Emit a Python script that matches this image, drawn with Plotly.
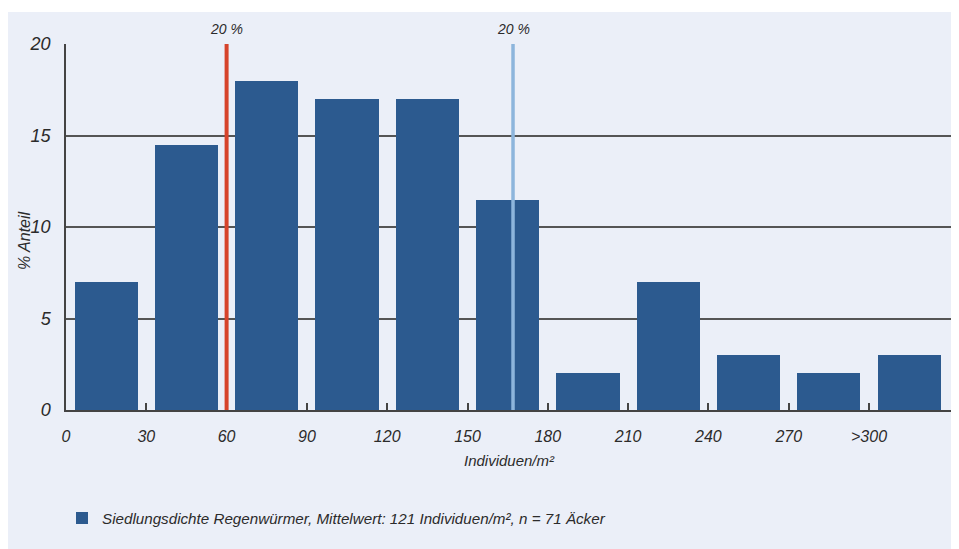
import plotly.graph_objects as go

bin_starts = [0, 30, 60, 90, 120, 150, 180, 210, 240, 270, 300]
shares = [7, 14.5, 18, 17, 17, 11.5, 2, 7, 3, 2, 3]
tick_vals = [0, 30, 60, 90, 120, 150, 180, 210, 240, 270, 300]
tick_text = ["0", "30", "60", "90", "120", "150", "180", "210", "240", "270", ">300"]
y_ticks = [0, 5, 10, 15, 20]
line_red_x = 60
line_blue_x = 167
line_labels = ["20 %", "20 %"]
series_name = "Siedlungsdichte Regenwürmer, Mittelwert: 121 Individuen/m², n = 71 Äcker"

BG = "#ebeff8"
BAR = "#2c5a8f"
TXT = "#2b2b2b"
FONT = "Liberation Sans, Arial, sans-serif"

W, H = 959, 549
L, R, T, B = 58, 15, 36, 147
pw, ph = W - L - R, H - T - B

fig = go.Figure()
fig.add_trace(go.Bar(
    x=[b + 15 for b in bin_starts], y=shares, width=23.6,
    marker=dict(color=BAR, line=dict(width=0)),
    name=series_name, showlegend=True,
))

# white strip above the panel
fig.add_shape(type="rect", xref="paper", yref="paper",
              x0=-1, x1=2, y0=(T + ph - 4) / ph, y1=(T + ph + 5) / ph,
              fillcolor="white", line=dict(width=0), layer="below")

fig.add_shape(type="line", xref="x", yref="paper", x0=line_red_x, x1=line_red_x, y0=0, y1=1,
              line=dict(color="#d6432b", width=4))
fig.add_shape(type="line", xref="x", yref="paper", x0=line_blue_x, x1=line_blue_x, y0=0, y1=1,
              line=dict(color="#8db5dc", width=3.5))
for xv, lab in zip([line_red_x, line_blue_x], line_labels):
    fig.add_annotation(x=xv, y=1, xref="x", yref="paper", yanchor="bottom", yshift=5,
                       text=lab, showarrow=False,
                       font=dict(family=FONT, size=14, color=TXT, style="italic"))

# y-axis title
fig.add_annotation(x=(16 - L) / pw, y=(T + ph - 233) / ph, xref="paper", yref="paper",
                   text="% Anteil", textangle=-90, showarrow=False,
                   xanchor="center", yanchor="middle",
                   font=dict(family=FONT, size=16, color=TXT, style="italic"))

fig.update_layout(
    width=W, height=H,
    margin=dict(l=L, r=R, t=T, b=B, autoexpand=False),
    paper_bgcolor=BG, plot_bgcolor="rgba(0,0,0,0)",
    font=dict(family=FONT, color=TXT, style="italic"),
    showlegend=True,
    legend=dict(x=(54 - L) / pw, y=(T + ph - 510) / ph, xanchor="left", yanchor="middle",
                orientation="h", bgcolor="rgba(0,0,0,0)",
                font=dict(family=FONT, size=15.2, color=TXT, style="italic")),
    bargap=0,
)
fig.update_xaxes(range=[0, 331], tickvals=tick_vals, ticktext=tick_text,
                 ticks="inside", ticklen=7, tickwidth=1.5, tickcolor="#444",
                 showline=True, linecolor="#444", linewidth=1.5, mirror=False,
                 showgrid=False, zeroline=False, ticklabelstandoff=11,
                 tickfont=dict(family=FONT, size=16, color=TXT, style="italic"),
                 title=dict(text="Individuen/m²", standoff=12,
                            font=dict(family=FONT, size=15, color=TXT, style="italic")))
fig.update_yaxes(range=[0, 20], tickvals=y_ticks,
                 showgrid=True, gridcolor="#555", gridwidth=1.5,
                 showline=True, linecolor="#444", linewidth=1.5,
                 zeroline=False, ticks="", ticklabelstandoff=10,
                 tickfont=dict(family=FONT, size=18, color=TXT, style="italic"))

fig.write_html("out.html")
